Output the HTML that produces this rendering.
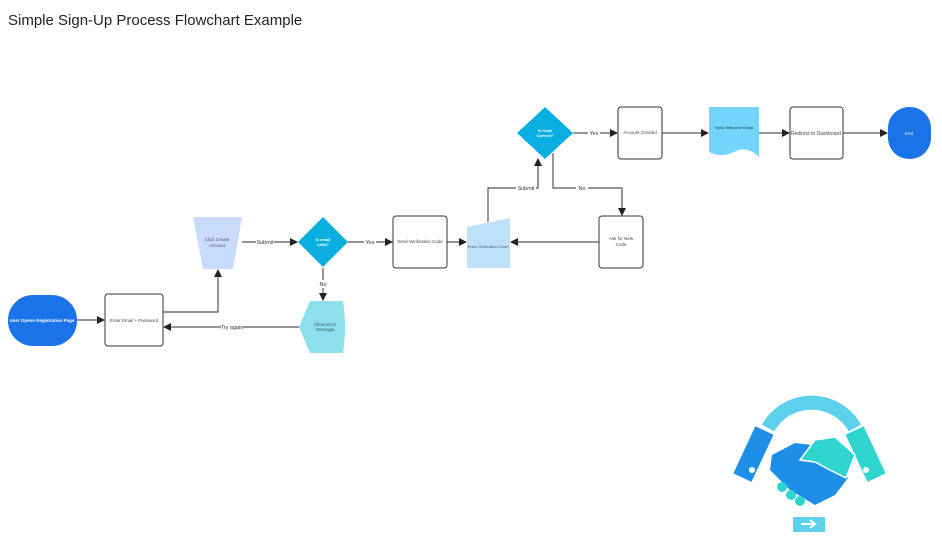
<!DOCTYPE html>
<html><head><meta charset="utf-8"><style>
html,body{margin:0;padding:0;background:#fff;width:942px;height:549px;overflow:hidden}
svg{display:block}
text{font-family:"Liberation Sans",sans-serif}
</style></head><body>
<svg width="942" height="549" viewBox="0 0 942 549">
<defs>
<marker id="a" markerWidth="8" markerHeight="8" refX="7" refY="4" orient="auto" markerUnits="userSpaceOnUse">
<path d="M0,0 L8,4 L0,8 z" fill="#222"/></marker>
</defs>
<text x="8" y="25" font-size="15" fill="#222">Simple Sign-Up Process Flowchart Example</text>

<g stroke="#555" stroke-width="1.2" fill="none" marker-end="url(#a)">
<path d="M77,320 H104"/>
<path d="M163,312 H218 V270"/>
<path d="M242,242 H297"/>
<path d="M323,268 V300"/>
<path d="M299,327 H164"/>
<path d="M348,242 H392"/>
<path d="M447,242 H466"/>
<path d="M599,242 H511"/>
<path d="M488,222 V188 H538 V159"/>
<path d="M553,153 V188 H622 V215"/>
<path d="M573,133 H617"/>
<path d="M662,133 H708"/>
<path d="M759,133 H789"/>
<path d="M843,133 H887"/>
</g>
<g font-size="5.5" fill="#333" text-anchor="middle">
<rect x="256" y="238" width="18" height="8" fill="#fff"/><text x="265" y="244">Submit</text>
<rect x="318" y="280" width="10" height="8" fill="#fff"/><text x="323" y="286">No</text>
<rect x="221" y="323" width="22" height="8" fill="#fff"/><text x="232" y="329">Try again</text>
<rect x="364" y="238" width="12" height="8" fill="#fff"/><text x="370" y="244">Yes</text>
<rect x="516" y="184" width="20" height="8" fill="#fff"/><text x="526" y="190">Submit</text>
<rect x="576" y="184" width="12" height="8" fill="#fff"/><text x="582" y="190">No</text>
<rect x="588" y="129" width="12" height="8" fill="#fff"/><text x="594" y="135">Yes</text>
</g>

<rect x="8" y="295" width="69" height="51" rx="25" fill="#1a73e8"/>
<text x="42" y="322" font-size="4.5" fill="#fff" text-anchor="middle" font-weight="bold">User Opens Registration Page</text>

<g fill="#fff" stroke="#333" stroke-width="1">
<rect x="105" y="294" width="58" height="52" rx="3"/>
<rect x="393" y="216" width="54" height="52" rx="3"/>
<rect x="599" y="216" width="44" height="52" rx="3"/>
<rect x="618" y="107" width="44" height="52" rx="3"/>
<rect x="790" y="107" width="53" height="52" rx="3"/>
</g>
<g font-size="4.5" fill="#444" text-anchor="middle">
<text x="134" y="322">Enter Email + Password</text>
<text x="420" y="243">Send Verification Code</text>
<text x="621" y="240">Ask for New</text><text x="621" y="246">Code</text>
<text x="640" y="134">Account Created</text>
<text x="816" y="135" font-size="5">Redirect to Dashboard</text>
</g>

<path d="M193,217 H242 L233,269 H203 Z" fill="#c9dbfb" stroke-linejoin="round"/>
<text x="217" y="241" font-size="4.5" fill="#556" text-anchor="middle">Click Create</text>
<text x="217" y="247" font-size="4.5" fill="#556" text-anchor="middle">Account</text>

<path d="M323,217 L348,242 L323,267 L298,242 Z" fill="#0aaee0"/>
<text x="323" y="241" font-size="4" fill="#fff" text-anchor="middle" font-weight="bold">Is email</text>
<text x="323" y="246" font-size="4" fill="#fff" text-anchor="middle" font-weight="bold">valid?</text>

<path d="M310,301 H343 Q347,327 343,353 H310 L299,327 Z" fill="#8ddfee"/>
<text x="325" y="326" font-size="4.5" fill="#456" text-anchor="middle">Show Error</text>
<text x="325" y="331" font-size="4.5" fill="#456" text-anchor="middle">Message</text>

<path d="M467,227 L510,218 V268 H467 Z" fill="#bfe0fb"/>
<text x="488" y="248" font-size="4" fill="#456" text-anchor="middle">Enter Verification Code</text>

<path d="M545,107 L573,133 L545,159 L517,133 Z" fill="#0aaee0"/>
<text x="545" y="132" font-size="4" fill="#fff" text-anchor="middle" font-weight="bold">Is Code</text>
<text x="545" y="137" font-size="4" fill="#fff" text-anchor="middle" font-weight="bold">Correct?</text>

<path d="M709,107 H759 V157 Q746,145 734,152 Q722,158 709,152 Z" fill="#74d4fb"/>
<text x="734" y="129" font-size="4" fill="#235" text-anchor="middle">Send Welcome Email</text>

<rect x="888" y="107" width="43" height="52" rx="21" fill="#1a73e8"/>
<text x="909" y="135" font-size="4.5" fill="#fff" text-anchor="middle">End</text>

<!-- handshake icon -->
<path d="M768,428 A50,50 0 0 1 855,428" fill="none" stroke="#5dd0ec" stroke-width="14"/>
<g transform="rotate(25 753 455)"><rect x="743" y="428" width="20" height="52" fill="#1d8fe8"/></g>
<circle cx="752" cy="470" r="3" fill="#fff"/>
<g transform="rotate(-25 866 455)"><rect x="856" y="428" width="20" height="52" fill="#2fd6d0"/></g>
<circle cx="866" cy="470" r="3" fill="#fff"/>
<path d="M772,455 L795,443 L820,446 L848,478 L835,495 L815,505 L790,490 L770,470 Z" fill="#1d8fe8"/>
<path d="M800,460 L815,440 L835,437 L855,455 L846,478 L830,470 L815,462 Z" fill="#2fd6d0" stroke="#fff" stroke-width="1.5"/>
<circle cx="782" cy="487" r="5" fill="#2fd6d0"/>
<circle cx="791" cy="495" r="5" fill="#2fd6d0"/>
<circle cx="800" cy="501" r="5" fill="#2fd6d0"/>
<rect x="793" y="517" width="32" height="15" fill="#5dd0ec"/>
<path d="M801,524 H814 M810,520 L815,524 L810,528" stroke="#fff" stroke-width="2" fill="none"/>
</svg>
</body></html>
